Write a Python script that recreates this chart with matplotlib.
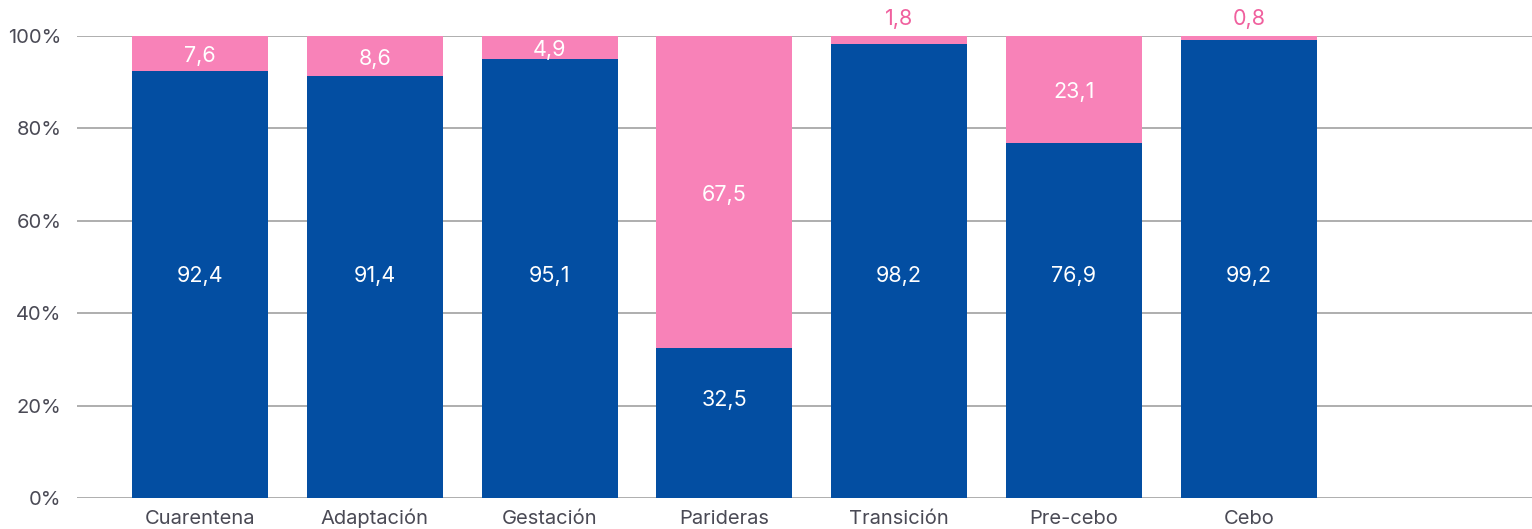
import matplotlib.pyplot as plt
import numpy as np

plt.rcParams['font.family'] = ['Inter', 'DejaVu Sans']

categorias = ["Cuarentena", "Adaptación", "Gestación", "Parideras", "Transición", "Pre-cebo", "Cebo"]
azul = [92.4, 91.4, 95.1, 32.5, 98.2, 76.9, 99.2]
rosa = [7.6, 8.6, 4.9, 67.5, 1.8, 23.1, 0.8]

c_azul = "#034ea2"
c_rosa = "#f882b8"

fig = plt.figure(figsize=(15.32, 5.29), dpi=100)
ax = fig.add_axes([77/1532, 31/529, 1 - 77/1532, (498-36)/529])

x = np.arange(len(categorias))
w = 0.778
ax.bar(x, azul, width=w, color=c_azul, zorder=2)
ax.bar(x, rosa, width=w, bottom=azul, color=c_rosa, zorder=2)

for i in range(len(categorias)):
    a = azul[i]
    r = rosa[i]
    ya = 48 if a > 60 else a/2 + 5
    ax.text(x[i], ya, f"{a:.1f}".replace(".", ","), ha="center", va="center",
            color="white", fontsize=15.5)
    if r >= 3:
        ax.text(x[i], a + r/2 - 0.6, f"{r:.1f}".replace(".", ","), ha="center", va="center",
                color="white", fontsize=15.5)
    else:
        ax.text(x[i], 103.6, f"{r:.1f}".replace(".", ","), ha="center", va="center",
                color="#f0609e", fontsize=15.5)

ax.set_xlim(-0.704, 7.62)
ax.set_ylim(0, 100)
ax.set_yticks([0, 20, 40, 60, 80, 100])
ax.set_yticklabels(["0%", "20%", "40%", "60%", "80%", "100%"])
ax.set_xticks(x)
ax.set_xticklabels(categorias)
ax.tick_params(length=0, labelsize=14.5, labelcolor="#4a4a55")
ax.tick_params(axis="y", pad=11)
ax.tick_params(axis="x", pad=19)
for lab in ax.get_xticklabels():
    lab.set_va("baseline")
ax.grid(axis="y", color="#a8a8a8", linewidth=1.3, zorder=1)
for s in ax.spines.values():
    s.set_visible(False)

fig.savefig("out.png", dpi=100)
